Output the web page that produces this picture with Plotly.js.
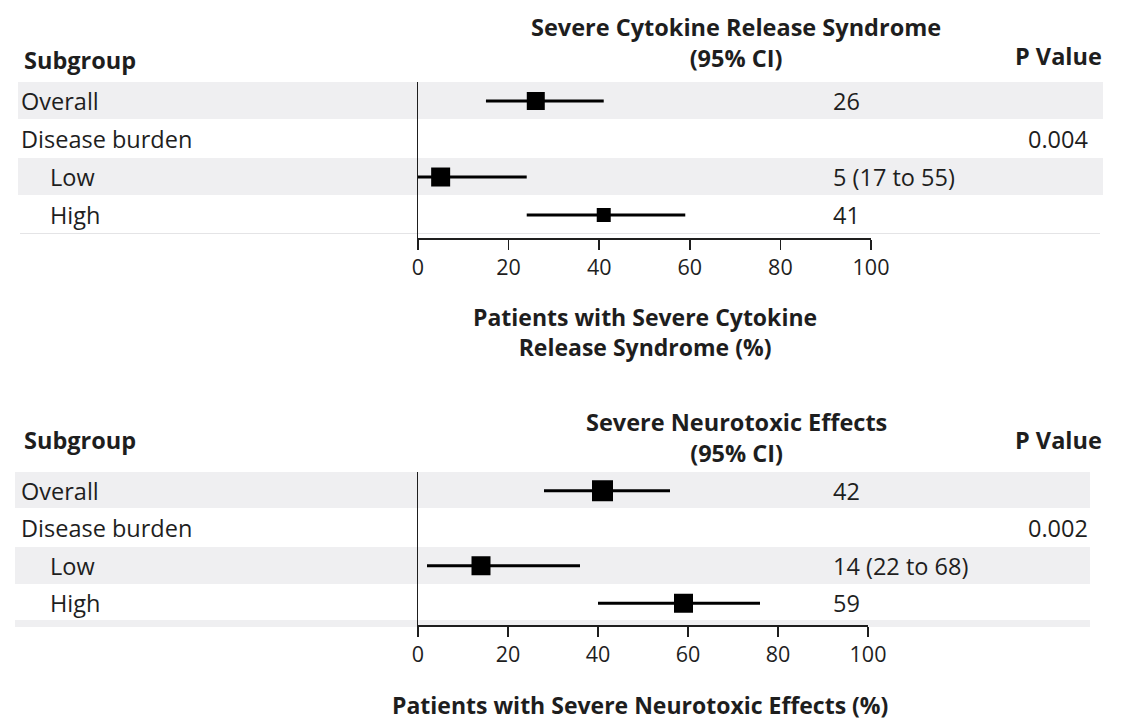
<!DOCTYPE html>
<html>
<head>
<meta charset="utf-8">
<script src="https://cdn.plot.ly/plotly-3.0.1.min.js"></script>
<style>html,body{margin:0;padding:0;background:#fff;}#chart{width:1129px;height:721px;}</style>
</head>
<body>
<div id="chart"></div>
<script>
// ---------------- DATA ----------------
const subgroups = ["Overall", "Disease burden", "Low", "High"];
const rowIndex = [0, 1, 2, 3];
const crsEst = [26, null, 5, 41];
const crsLo = [15, null, 0, 24];
const crsHi = [41, null, 24, 59];
const crsText = ["26", "", "5 (17 to 55)", "41"];
const crsP = ["", "0.004", "", ""];
const neuEst = [41, null, 14, 59];
const neuLo = [28, null, 2, 40];
const neuHi = [56, null, 36, 76];
const neuText = ["42", "", "14 (22 to 68)", "59"];
const neuP = ["", "0.002", "", ""];
const tickVals = [0, 20, 40, 60, 80, 100];
const tickText = ["0", "20", "40", "60", "80", "100"];

// ---------------- STYLE / LAYOUT ----------------
const W = 1129, H = 721;
const px = x => x / W;
const py = y => 1 - y / H;
const FONT = "Open Sans, sans-serif";
const INK = "#1e1e1e";
const BAND = "#efeff1";
const FS = 23.5;
const FS_AX = 23;
const FS_TICK = 21.5;
const sizesTop = [18, 0, 19, 14];
const sizesBot = [21, 0, 19, 19];
const indent = [0, 0, 1, 1];

function ciTrace(est, lo, hi, sizes, xa, ya) {
  return {
    type: "scatter", mode: "markers", xaxis: xa, yaxis: ya,
    x: est, y: rowIndex, opacity: 1,
    marker: {symbol: "square", color: "#000000", size: sizes, opacity: 1, line: {width: 0}},
    error_x: {
      type: "data", symmetric: false,
      array: est.map((v, i) => v == null ? null : hi[i] - v),
      arrayminus: est.map((v, i) => v == null ? null : v - lo[i]),
      color: "#000000", thickness: 3, width: 0
    },
    hoverinfo: "skip", showlegend: false, cliponaxis: false
  };
}

const traces = [
  ciTrace(crsEst, crsLo, crsHi, sizesTop, "x", "y"),
  ciTrace(neuEst, neuLo, neuHi, sizesBot, "x2", "y2")
];

const shapes = [];
function band(yTop, yBot, xl, xr) {
  shapes.push({type: "rect", xref: "paper", yref: "paper", x0: px(xl), x1: px(xr),
    y0: py(yBot), y1: py(yTop), fillcolor: BAND, line: {width: 0}, layer: "below"});
}
// top panel bands
band(82, 119, 18, 1103);
band(158, 195, 18, 1103);
shapes.push({type: "line", xref: "paper", yref: "paper", x0: px(20), x1: px(1100),
  y0: py(233.5), y1: py(233.5), line: {color: "#e4e4e6", width: 1}, layer: "below"});
// bottom panel bands
band(472, 508, 15, 1090);
band(547, 584, 15, 1090);
band(620, 627, 15, 1090);

const annotations = [];
function txt(text, x, y, anchor, size) {
  annotations.push({
    text: text, x: px(x), y: py(y), xref: "paper", yref: "paper",
    xanchor: anchor, yanchor: "middle", showarrow: false, align: "center",
    font: {family: FONT, size: size || FS, color: INK}
  });
}
function rowTexts(vals, ps, yref) {
  const f = {family: FONT, size: FS, color: INK};
  subgroups.forEach((s, i) => {
    annotations.push({text: s, x: px(indent[i] ? 48 : 19), y: rowIndex[i], xref: "paper", yref: yref,
      xanchor: "left", yanchor: "middle", showarrow: false, font: f});
    if (vals[i]) annotations.push({text: vals[i], x: px(831), y: rowIndex[i], xref: "paper", yref: yref,
      xanchor: "left", yanchor: "middle", showarrow: false, font: f});
    if (ps[i]) annotations.push({text: ps[i], x: px(1090), y: rowIndex[i], xref: "paper", yref: yref,
      xanchor: "right", yanchor: "middle", showarrow: false, font: f});
  });
}
// top headers
txt("<b>Severe Cytokine Release Syndrome</b><br><b>(95% CI)</b>", 736, 43, "center");
txt("<b>Subgroup</b>", 22, 60, "left");
txt("<b>P Value</b>", 1104, 56, "right");
rowTexts(crsText, crsP, "y");
txt("<b>Patients with Severe Cytokine</b><br><b>Release Syndrome (%)</b>", 645, 332, "center", FS_AX);
// bottom headers
txt("<b>Severe Neurotoxic Effects</b><br><b>(95% CI)</b>", 736, 438, "center");
txt("<b>Subgroup</b>", 22, 440, "left");
txt("<b>P Value</b>", 1104, 440, "right");
rowTexts(neuText, neuP, "y2");
txt("<b>Patients with Severe Neurotoxic Effects (%)</b>", 640, 705, "center", FS_AX);

const xBase = {
  range: [0, 100], tickvals: tickVals, ticktext: tickText, ticks: "outside", ticklen: 10,
  tickwidth: 1.5, tickcolor: INK, showline: true, linecolor: INK, linewidth: 1.5,
  showgrid: false, zeroline: false, fixedrange: true,
  tickfont: {family: FONT, size: FS_TICK, color: INK}
};
const yBase = {
  showline: true, linecolor: INK, linewidth: 1.5, showticklabels: false, ticks: "",
  showgrid: false, zeroline: false, fixedrange: true
};

const layout = {
  width: W, height: H, margin: {l: 0, r: 0, t: 0, b: 0},
  paper_bgcolor: "#fff", plot_bgcolor: "rgba(0,0,0,0)",
  showlegend: false,
  xaxis: Object.assign({}, xBase, {domain: [px(418), px(871)], anchor: "y"}),
  yaxis: Object.assign({}, yBase, {domain: [py(238), py(82)], range: [3.605, -0.5], anchor: "x"}),
  xaxis2: Object.assign({}, xBase, {domain: [px(418), px(868)], anchor: "y2"}),
  yaxis2: Object.assign({}, yBase, {domain: [py(625), py(472)], range: [3.58, -0.5], anchor: "x2"}),
  shapes: shapes,
  annotations: annotations
};

Plotly.newPlot("chart", traces, layout, {displayModeBar: false, staticPlot: true});
</script>
</body>
</html>
